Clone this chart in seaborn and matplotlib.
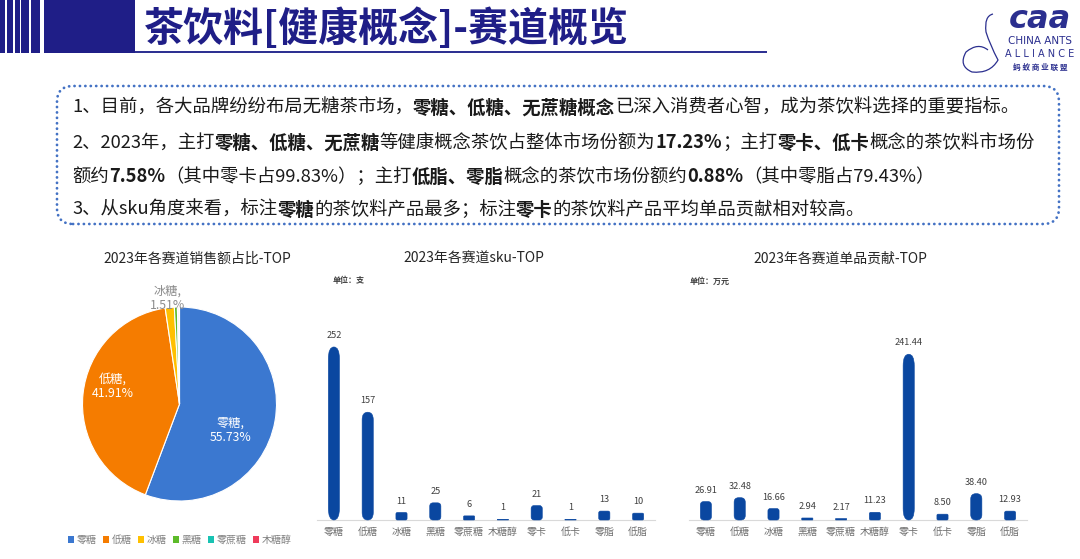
import matplotlib
matplotlib.use("Agg")
import matplotlib.pyplot as plt
from matplotlib.patches import Rectangle, FancyBboxPatch, Patch
from matplotlib.transforms import IdentityTransform
from matplotlib.path import Path
from matplotlib.patches import PathPatch
import seaborn as sns
import pandas as pd

# ---------------- data ----------------
pie_labels = ["零糖", "低糖", "冰糖", "黑糖", "零蔗糖", "木糖醇"]
pie_values = [55.73, 41.91, 1.51, 0.50, 0.22, 0.13]
pie_colors = ["#3B78D0", "#F57C00", "#FFC000", "#5DBB2A", "#19C3B3", "#EF3B5B"]

bar_categories = ["零糖", "低糖", "冰糖", "黑糖", "零蔗糖", "木糖醇", "零卡", "低卡", "零脂", "低脂"]
sku_values = [252, 157, 11, 25, 6, 1, 21, 1, 13, 10]
contrib_values = [26.91, 32.48, 16.66, 2.94, 2.17, 11.23, 241.44, 8.50, 38.40, 12.93]

W, H = 1080, 559
NAVY = "#1F1E87"
BAR = "#0A47A0"

sns.set_theme(style="white")
plt.rcParams["font.family"] = ["Noto Sans CJK SC", "DejaVu Sans"]

fig = plt.figure(figsize=(W / 100, H / 100), dpi=100)
fig.patch.set_facecolor("white")


def fx(x):
    return x / W


def fy(y):
    return 1 - y / H


# ---------------- header ----------------
for x0, x1 in [(0, 5), (7, 13), (14.5, 19.5), (21, 29), (31, 39.5), (43.5, 135)]:
    fig.add_artist(Rectangle((x0, H - 53), x1 - x0, 53, transform=IdentityTransform(),
                             facecolor=NAVY, edgecolor="none"))
fig.add_artist(Rectangle((135, H - 53), 632, 1.6, transform=IdentityTransform(),
                         facecolor="#2E3192", edgecolor="none"))
fig.text(fx(144), fy(29), "茶饮料[健康概念]-赛道概览", fontsize=28.8, fontweight="bold",
         color=NAVY, ha="left", va="center")

# logo
fig.text(fx(1040), fy(20), "caa", fontsize=23, fontweight="bold", style="italic",
         color="#2B2F8F", ha="center", va="center", family=["DejaVu Sans"])
fig.text(fx(1040), fy(41), "CHINA ANTS", fontsize=7.5, color="#2B2F8F", ha="center", va="center",
         family=["DejaVu Sans"])
fig.text(fx(1040), fy(54), "A L L I A N C E", fontsize=7, color="#2B2F8F", ha="center", va="center",
         family=["DejaVu Sans"])
fig.text(fx(1040), fy(67), "蚂 蚁 商 业 联 盟", fontsize=5.5, fontweight="bold", color="#2B2F8F",
         ha="center", va="center")
verts = [(993, H - 14), (984, H - 16), (986, H - 32), (990, H - 45), (998, H - 60), (990, H - 74),
         (972, H - 72), (958, H - 66), (966, H - 52), (978, H - 42), (988, H - 50)]
codes = [Path.MOVETO] + [Path.CURVE3] * 10
fig.add_artist(PathPatch(Path(verts, codes), transform=IdentityTransform(), facecolor="none",
                         edgecolor="#2B2F8F", lw=0.9))

# ---------------- text box ----------------
box = FancyBboxPatch((57, H - 224), 1002, 138, boxstyle="round,pad=0,rounding_size=16",
                     transform=IdentityTransform(), facecolor="none", edgecolor="#4472C4",
                     linewidth=2.0, linestyle=(0, (0.05, 1.9)))
box.set_capstyle("round")
fig.add_artist(box)

lines = [
    [("1、目前，各大品牌纷纷布局无糖茶市场，", False), ("零糖、低糖、无蔗糖概念", True),
     ("已深入消费者心智，成为茶饮料选择的重要指标。", False)],
    [("2、2023年，主打", False), ("零糖、低糖、无蔗糖", True), ("等健康概念茶饮占整体市场份额为", False),
     ("17.23%", True), ("；主打", False), ("零卡、低卡", True), ("概念的茶饮料市场份", False)],
    [("额约", False), ("7.58%", True), ("（其中零卡占99.83%）；主打", False), ("低脂、零脂", True),
     ("概念的茶饮市场份额约", False), ("0.88%", True), ("（其中零脂占79.43%）", False)],
    [("3、从sku角度来看，标注", False), ("零糖", True), ("的茶饮料产品最多；标注", False), ("零卡", True),
     ("的茶饮料产品平均单品贡献相对较高。", False)],
]
line_y = [108, 143, 177, 210]
renderer = fig.canvas.get_renderer()
for segs, yy in zip(lines, line_y):
    x = 72
    for txt, bold in segs:
        t = fig.text(fx(x), fy(yy), txt, fontsize=13.2, fontweight="bold" if bold else "normal",
                     color="#1A1A1A", ha="left", va="center")
        x += t.get_window_extent(renderer).width

# ---------------- pie ----------------
cx, cy, r = 179.5, 404, 97
axp = fig.add_axes([fx(cx - r), fy(cy + r), 2 * r / W, 2 * r / H])
wedges, _ = axp.pie(pie_values, colors=pie_colors, startangle=90, counterclock=False,
                    wedgeprops=dict(edgecolor="white", linewidth=0.8))
axp.set_xlim(-1, 1)
axp.set_ylim(-1, 1)
axp.set_aspect("equal")
axp.axis("off")
axp.text(0.53, -0.27, f"{pie_labels[0]},\n{pie_values[0]:.2f}%", color="white", fontsize=8.8,
         ha="center", va="center", linespacing=1.1)
axp.text(-0.69, 0.18, f"{pie_labels[1]},\n{pie_values[1]:.2f}%", color="white", fontsize=8.8,
         ha="center", va="center", linespacing=1.1)
axp.text(-0.12, 1.09, f"{pie_labels[2]},\n{pie_values[2]:.2f}%", color="#8C8C8C", fontsize=8.8,
         ha="center", va="center", linespacing=1.1)
fig.text(fx(197), fy(259), "2023年各赛道销售额占比-TOP", fontsize=10, color="#262626",
         ha="center", va="center")
handles = [Patch(facecolor=c, edgecolor="none") for c in pie_colors]
fig.legend(handles, pie_labels, loc="center", bbox_to_anchor=(fx(180), fy(540)), ncol=6,
           fontsize=7.2, labelcolor="#7F7F7F", frameon=False, handlelength=0.6, handleheight=0.6,
           handletextpad=0.3, columnspacing=0.6, borderpad=0)


# ---------------- bars ----------------
def capsule_bars(ax, values, fmt):
    df = pd.DataFrame({"cat": bar_categories, "val": values})
    sns.barplot(data=df, x="cat", y="val", ax=ax, color=BAR, width=0.33, saturation=1)
    ax.set_xlim(-0.5, len(values) - 0.5)
    ax.set_ylim(0, 300)
    for s in ["left", "top", "right"]:
        ax.spines[s].set_visible(False)
    ax.spines["bottom"].set_color("#D9D9D9")
    ax.spines["bottom"].set_linewidth(0.8)
    ax.set_yticks([])
    ax.set_xlabel("")
    ax.set_ylabel("")
    ax.tick_params(axis="x", length=0, labelsize=7.2, labelcolor="#6E6E6E", pad=5)
    trans = ax.transData
    for p, v in zip(list(ax.patches), values):
        x0, y0 = trans.transform((p.get_x(), 0))
        x1, y1 = trans.transform((p.get_x() + p.get_width(), p.get_height()))
        w, h = x1 - x0, y1 - y0
        rx = max(min(w / 2, 0.2 * h), 0.01)
        ry = min(max(0.07 * h, rx), h / 2) if h > 0 else rx
        fb = FancyBboxPatch((x0, y0), w, h, boxstyle=f"round,pad=0,rounding_size={rx}",
                            mutation_aspect=ry / rx, transform=IdentityTransform(),
                            facecolor=BAR, edgecolor=BAR, linewidth=0.4)
        p.set_visible(False)
        fig.add_artist(fb)
        ax.annotate(fmt.format(v), (p.get_x() + p.get_width() / 2, p.get_height()),
                    xytext=(0, 5), textcoords="offset points", ha="center", va="bottom",
                    fontsize=6.6, color="#404040")


ax1 = fig.add_axes([fx(317), fy(520), 338 / W, 206 / H])
capsule_bars(ax1, sku_values, "{:d}")
fig.text(fx(474), fy(259), "2023年各赛道sku-TOP", fontsize=10, color="#262626", ha="center", va="center")
fig.text(fx(333), fy(281), "单位：支", fontsize=5.8, fontweight="bold", color="#404040",
         ha="left", va="center")

ax2 = fig.add_axes([fx(689), fy(520), 338 / W, 206 / H])
capsule_bars(ax2, contrib_values, "{:.2f}")
fig.text(fx(840), fy(259), "2023年各赛道单品贡献-TOP", fontsize=10, color="#262626", ha="center", va="center")
fig.text(fx(690), fy(281), "单位：万元", fontsize=5.8, fontweight="bold", color="#404040",
         ha="left", va="center")

fig.savefig("out.png", dpi=100)
